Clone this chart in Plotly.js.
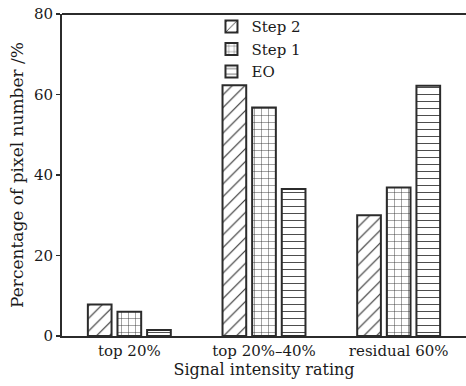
<!DOCTYPE html>
<html><head><meta charset="utf-8">
<script src="https://cdn.plot.ly/plotly-3.0.1.min.js"></script>
<style>html,body{margin:0;padding:0;background:#fff}#c{width:466px;height:386px}</style>
</head><body><div id="c"></div>
<script>
const categories = ["top 20%", "top 20%\u201340%", "residual 60%"];
const step2 = [7.8, 62.3, 30.0];
const step1 = [6.0, 56.8, 36.9];
const eo = [1.5, 36.5, 62.2];
const seriesNames = ["Step 2", "Step 1", "EO"];
const yTicks = [0, 20, 40, 60, 80];

const ink = "#2b2b2b";
const txt = "#1a1a1a";
const font = "DejaVu Serif, Liberation Serif, serif";
function mk(name, vals, shape, size) {
  return {
    type: "bar", name: name, x: categories, y: vals,
    marker: {
      color: "#ffffff",
      line: {color: ink, width: 2},
      pattern: {shape: shape, fgcolor: ink, bgcolor: "#ffffff", size: size, solidity: 0.12, fillmode: "replace"}
    }
  };
}
const data = [
  mk(seriesNames[0], step2, "/", 9),
  mk(seriesNames[1], step1, "+", 7),
  mk(seriesNames[2], eo, "-", 7)
];
const layout = {
  width: 466, height: 386,
  margin: {l: 62, r: 0, t: 14, b: 50},
  paper_bgcolor: "#fff", plot_bgcolor: "#fff",
  font: {family: font, size: 15, color: txt},
  barmode: "group", bargap: 0.34, bargroupgap: 0.2,
  showlegend: true,
  legend: {x: 0.37, y: 1.012, xanchor: "left", yanchor: "top", bgcolor: "rgba(0,0,0,0)",
           font: {family: font, size: 15, color: txt}, tracegroupgap: 0},
  shapes: [{type: "line", xref: "paper", yref: "paper", x0: 0, x1: 1, y0: 1, y1: 1,
            line: {color: ink, width: 2}}],
  xaxis: {
    showline: true, linecolor: ink, linewidth: 2,
    ticks: "", showgrid: false, zeroline: false,
    tickfont: {family: font, size: 15, color: txt},
    title: {text: "Signal intensity rating", font: {family: font, size: 16, color: txt}, standoff: 2}
  },
  yaxis: {
    range: [0, 80], tickvals: yTicks, ticktext: yTicks.map(String),
    showline: true, linecolor: ink, linewidth: 2,
    ticks: "outside", ticklen: 4, tickcolor: ink, tickwidth: 1.5,
    showgrid: false, zeroline: false,
    tickfont: {family: font, size: 15, color: txt},
    title: {text: "Percentage of pixel number /%", font: {family: font, size: 17, color: txt}, standoff: 6}
  }
};
Plotly.newPlot("c", data, layout, {displayModeBar: false, staticPlot: true});
</script></body></html>
